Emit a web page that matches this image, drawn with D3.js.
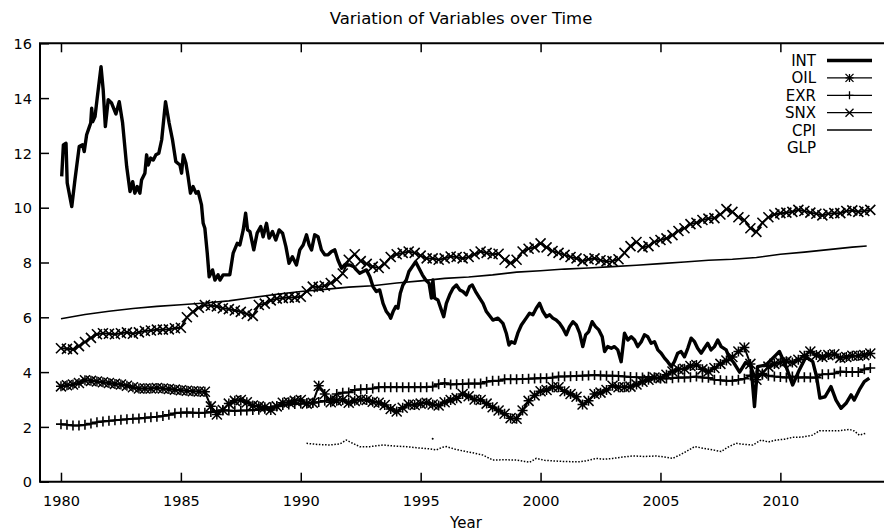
<!DOCTYPE html>
<html><head><meta charset="utf-8">
<script src="https://cdn.jsdelivr.net/npm/d3@7"></script>
<style>
body{margin:0;background:#fff;}
svg text{font-family:"DejaVu Sans",Verdana,sans-serif;fill:#000;}
</style>
</head><body>
<svg id="chart" width="884" height="532"></svg>
<script>
// ---------------- DATA ----------------
const titleText = "Variation of Variables over Time";
const xLabelText = "Year";
const xTickValues = [1980, 1985, 1990, 1995, 2000, 2005, 2010];
const yTickValues = [0, 2, 4, 6, 8, 10, 12, 14, 16];
const legendNames = ["INT", "OIL", "EXR", "SNX", "CPI", "GLP"];

// quarterly time points for OIL, EXR, SNX (1980 Q1 ... 2013 Q4)
const quarterYears = d3.range(136).map(i => 1980 + i / 4);

const oilValues = [
3.48,3.52,3.55,3.60, 3.70,3.68,3.66,3.63, 3.60,3.57,3.55,3.50, 3.45,3.40,3.40,3.40,
3.42,3.40,3.38,3.36, 3.34,3.32,3.30,3.29, 3.28,2.75,2.45,2.62, 2.85,2.95,2.98,2.90,
2.78,2.75,2.72,2.62, 2.75,2.88,2.90,2.95, 2.98,2.85,2.88,3.50, 3.20,2.90,2.95,2.98,
2.88,2.95,3.00,2.98, 2.92,2.88,2.80,2.65, 2.56,2.70,2.82,2.80, 2.85,2.88,2.82,2.78,
2.90,2.98,3.05,3.20, 3.12,3.00,2.98,2.85, 2.72,2.60,2.48,2.32, 2.30,2.60,2.95,3.15,
3.30,3.35,3.45,3.45, 3.30,3.20,3.10,2.82, 2.95,3.20,3.25,3.35, 3.50,3.45,3.45,3.47,
3.55,3.65,3.72,3.80, 3.78,3.90,4.02,4.10, 4.12,4.22,4.26,4.10, 4.02,4.15,4.30,4.42,
4.55,4.75,4.90,4.30, 3.72,3.95,4.20,4.30, 4.35,4.40,4.35,4.45, 4.60,4.75,4.62,4.55,
4.62,4.65,4.52,4.55, 4.60,4.60,4.62,4.68];

const exrValues = [
2.10,2.08,2.05,2.05, 2.08,2.12,2.17,2.20, 2.22,2.24,2.26,2.28, 2.30,2.31,2.33,2.35,
2.37,2.40,2.44,2.50, 2.52,2.53,2.52,2.51, 2.52,2.54,2.57,2.60, 2.60,2.58,2.60,2.60,
2.62,2.63,2.66,2.72, 2.75,2.80,2.82,2.84, 2.85,2.86,2.88,2.91, 2.95,3.00,3.20,3.25,
3.26,3.35,3.37,3.38, 3.40,3.45,3.45,3.45, 3.45,3.45,3.45,3.45, 3.45,3.45,3.47,3.56,
3.60,3.55,3.56,3.57, 3.58,3.58,3.58,3.65, 3.68,3.68,3.74,3.74, 3.74,3.75,3.76,3.77,
3.78,3.78,3.80,3.84, 3.84,3.85,3.86,3.87, 3.88,3.89,3.88,3.87, 3.87,3.86,3.84,3.82,
3.81,3.80,3.83,3.80, 3.77,3.77,3.78,3.80, 3.80,3.81,3.84,3.80, 3.79,3.72,3.70,3.68,
3.68,3.72,3.76,3.88, 3.88,3.90,3.87,3.84, 3.82,3.80,3.84,3.80, 3.81,3.80,3.80,3.92,
3.92,3.95,4.02,4.00, 4.00,4.00,4.10,4.15];

const snxValues = [
4.87,4.85,4.83,4.95, 5.10,5.25,5.38,5.42, 5.40,5.38,5.42,5.45, 5.40,5.45,5.50,5.52,
5.55,5.55,5.56,5.60, 5.62,6.00,6.20,6.35, 6.45,6.42,6.40,6.33, 6.30,6.25,6.20,6.12,
6.05,6.45,6.50,6.62, 6.68,6.70,6.72,6.72, 6.75,6.95,7.12,7.10, 7.15,7.25,7.38,7.60,
8.10,8.30,8.05,7.95, 7.85,7.80,7.95,8.20, 8.30,8.35,8.40,8.35, 8.25,8.15,8.15,8.10,
8.15,8.22,8.20,8.15, 8.20,8.30,8.40,8.35, 8.30,8.32,8.10,7.98, 8.10,8.40,8.50,8.55,
8.70,8.55,8.42,8.35, 8.28,8.20,8.15,8.05, 8.12,8.15,8.08,8.04, 8.05,8.12,8.35,8.60,
8.75,8.55,8.60,8.75, 8.82,8.88,9.00,9.15, 9.25,9.40,9.45,9.55, 9.60,9.62,9.75,9.95,
9.85,9.65,9.55,9.25, 9.12,9.45,9.65,9.75, 9.80,9.82,9.85,9.92, 9.88,9.82,9.78,9.72,
9.78,9.80,9.80,9.88, 9.90,9.85,9.88,9.92];

const intYears = [
1980.03,1980.10,1980.21,1980.26,1980.45,1980.58,1980.76,1980.90,1980.97,1981.07,1981.18,1981.24,1981.28,1981.32,
1981.42,1981.51,1981.67,1981.76,1981.85,1981.97,1982.11,1982.29,1982.43,1982.57,1982.74,1982.88,1982.99,1983.08,
1983.18,1983.29,1983.36,1983.50,1983.57,1983.64,1983.74,1983.85,1983.96,1984.08,1984.20,1984.36,1984.51,1984.65,
1984.79,1984.96,1985.03,1985.10,1985.21,1985.30,1985.40,1985.51,1985.63,1985.72,1985.86,1985.93,1986.00,1986.10,
1986.18,1986.32,1986.42,1986.55,1986.63,1986.76,1987.04,1987.18,1987.35,1987.46,1987.60,1987.70,1987.78,1987.88,
1988.04,1988.18,1988.33,1988.43,1988.57,1988.68,1988.82,1988.96,1989.10,1989.24,1989.38,1989.51,1989.65,1989.82,
1989.96,1990.10,1990.24,1990.35,1990.45,1990.58,1990.72,1990.86,1991.00,1991.14,1991.28,1991.42,1991.55,1991.70,
1991.83,1992.04,1992.21,1992.32,1992.46,1992.60,1992.74,1992.88,1993.01,1993.15,1993.29,1993.43,1993.57,1993.68,
1993.75,1993.85,1993.96,1994.05,1994.15,1994.26,1994.40,1994.51,1994.65,1994.79,1994.93,1995.07,1995.21,1995.35,
1995.45,1995.51,1995.58,1995.72,1995.86,1995.96,1996.07,1996.21,1996.35,1996.49,1996.63,1996.76,1996.90,1997.04,
1997.15,1997.29,1997.46,1997.60,1997.74,1998.01,1998.22,1998.43,1998.57,1998.68,1998.78,1998.92,1999.05,1999.20,
1999.40,1999.54,1999.68,1999.82,1999.96,2000.10,2000.24,2000.38,2000.51,2000.65,2000.79,2000.93,2001.07,2001.21,
2001.35,2001.49,2001.63,2001.76,2001.88,2002.01,2002.15,2002.29,2002.43,2002.57,2002.67,2002.80,2002.95,2003.08,
2003.22,2003.36,2003.50,2003.64,2003.78,2003.92,2004.05,2004.20,2004.33,2004.47,2004.61,2004.75,2004.89,2005.03,
2005.17,2005.30,2005.45,2005.58,2005.72,2005.86,2006.00,2006.14,2006.28,2006.42,2006.55,2006.70,2006.83,2006.97,
2007.11,2007.25,2007.39,2007.53,2007.74,2007.85,2008.05,2008.30,2008.55,2008.78,2008.92,2009.05,2009.40,2009.82,
2009.96,2010.24,2010.51,2010.79,2011.07,2011.35,2011.51,2011.65,2011.86,2012.11,2012.32,2012.53,2012.74,2012.95,
2013.08,2013.29,2013.50,2013.71];
const intValues = [
11.14,12.29,12.35,10.90,10.04,11.00,12.23,12.30,12.05,12.66,12.94,13.09,13.63,13.14,
13.33,14.00,15.15,14.30,12.96,13.94,13.82,13.42,13.87,13.09,11.50,10.59,10.95,10.53,
10.77,10.53,11.01,11.26,11.93,11.56,11.81,11.74,11.93,11.99,12.48,13.87,13.09,12.48,
11.68,11.56,11.26,11.93,11.62,11.14,10.53,10.77,10.53,10.59,10.10,9.43,9.25,8.34,
7.48,7.73,7.36,7.55,7.36,7.55,7.55,8.34,8.70,8.64,9.19,9.80,9.19,9.13,
8.46,9.07,9.31,8.94,9.43,8.89,9.13,8.82,9.19,9.07,8.58,7.97,8.21,7.91,
8.46,8.64,9.01,8.64,8.46,9.01,8.94,8.46,8.28,8.28,8.40,8.46,8.09,7.79,
7.91,7.91,7.85,7.73,7.61,7.67,7.73,7.48,7.12,6.94,7.00,6.51,6.21,6.09,
5.97,6.21,6.39,6.33,6.88,7.18,7.36,7.67,7.85,8.03,7.79,7.55,7.36,7.24,
6.70,7.36,6.70,6.63,6.27,6.02,6.51,6.82,7.06,7.18,7.00,6.94,6.82,7.12,
7.18,6.94,6.70,6.51,6.21,5.90,5.97,5.78,5.42,4.99,5.11,5.05,5.42,5.72,
5.97,6.15,6.09,6.33,6.51,6.21,6.02,6.09,5.97,5.90,5.78,5.60,5.36,5.66,
5.84,5.72,5.42,4.93,5.36,5.48,5.84,5.66,5.54,5.29,4.75,4.93,4.87,4.93,
4.81,4.38,5.42,5.17,5.29,5.17,4.93,5.11,5.36,5.29,5.05,5.11,4.81,4.69,
4.51,4.38,4.20,4.38,4.69,4.75,4.56,4.87,5.24,5.11,4.87,4.69,4.87,5.05,
4.81,4.93,5.17,4.93,4.81,4.56,4.35,4.00,4.35,4.20,2.74,4.20,4.26,4.63,
4.75,4.20,3.53,4.08,4.56,4.38,3.83,3.05,3.10,3.47,2.98,2.68,2.86,3.17,
2.98,3.35,3.65,3.78];

const cpiYears = [1980,1981,1982,1983,1984,1985,1986,1987,1988,1989,1990,1991,1992,1993,1994,1995,1996,
1997,1998,1999,2000,2001,2002,2003,2004,2005,2006,2007,2008,2009,2010,2011,2012,2013,2013.6];
const cpiValues = [5.95,6.10,6.22,6.32,6.40,6.46,6.52,6.60,6.72,6.84,6.94,7.02,7.10,7.15,7.25,7.33,7.42,
7.47,7.55,7.65,7.70,7.76,7.80,7.85,7.90,7.96,8.02,8.08,8.12,8.18,8.30,8.38,8.47,8.56,8.60];

const glpYears = [1990.24,1990.71,1991.21,1991.63,1991.90,1992.17,1992.46,1992.88,1993.43,1993.92,1994.40,1994.82,
1995.10,1995.38,1995.65,1995.88,1996.07,1996.46,1996.90,1997.25,1997.60,1998.01,1998.50,1998.99,1999.33,1999.54,
1999.82,2000.17,2000.51,2000.92,2001.35,2001.63,2001.90,2002.32,2002.67,2003.01,2003.42,2003.85,2004.33,2004.82,
2005.17,2005.51,2005.79,2006.07,2006.42,2006.79,2007.18,2007.53,2007.79,2008.15,2008.50,2008.85,2009.20,2009.50,
2009.82,2010.17,2010.51,2010.92,2011.35,2011.63,2012.04,2012.45,2012.88,2013.08,2013.29,2013.57];
const glpValues = [1.40,1.36,1.34,1.38,1.52,1.40,1.28,1.28,1.34,1.30,1.28,1.24,
1.22,1.20,1.16,1.25,1.28,1.18,1.10,1.04,0.97,0.79,0.80,0.79,0.74,0.71,
0.85,0.78,0.76,0.74,0.73,0.73,0.76,0.85,0.82,0.85,0.90,0.94,0.92,0.94,
0.90,0.85,0.97,1.10,1.28,1.22,1.16,1.10,1.25,1.40,1.36,1.34,1.52,1.45,
1.52,1.55,1.62,1.63,1.70,1.86,1.86,1.86,1.91,1.85,1.70,1.77];
const glpIsolatedYears = [1995.5];
const glpIsolatedValues = [1.57];

// ---------------- DRAWING ----------------
const svg = d3.select("#chart");
const pLeft = 40, pRight = 886, pTop = 43.3, pBottom = 481.7;

const x = d3.scaleLinear().domain([1979.125, 2014.405]).range([pLeft, pRight]);
const y = d3.scaleLinear().domain([0, 16]).range([pBottom, pTop]);

svg.append("defs").append("clipPath").attr("id", "clip")
  .append("rect").attr("x", pLeft).attr("y", pTop).attr("width", pRight - pLeft).attr("height", pBottom - pTop);

// Title
svg.append("text").attr("x", 461).attr("y", 24).attr("text-anchor", "middle")
  .style("font-size", "16.5px").text(titleText);
// X label
svg.append("text").attr("x", 466).attr("y", 528).attr("text-anchor", "middle")
  .style("font-size", "15px").text(xLabelText);

// Axes (ticks inward)
const gx = svg.append("g").attr("transform", `translate(0,${pBottom})`)
  .call(d3.axisBottom(x).tickValues(xTickValues).tickFormat(d3.format("d")).tickSize(-9).tickPadding(0));
gx.select(".domain").remove();
gx.selectAll(".tick line").attr("stroke", "#000").attr("stroke-width", 1.5);
gx.selectAll(".tick text").attr("y", 24.5).attr("dy", null).style("font-size", "14.5px");

const gxt = svg.append("g").attr("transform", `translate(0,${pTop})`)
  .call(d3.axisTop(x).tickValues(xTickValues).tickFormat("").tickSize(-9));
gxt.select(".domain").remove();
gxt.selectAll(".tick line").attr("stroke", "#000").attr("stroke-width", 1.5);

const gy = svg.append("g").attr("transform", `translate(${pLeft},0)`)
  .call(d3.axisLeft(y).tickValues(yTickValues).tickSize(-9).tickPadding(0));
gy.select(".domain").remove();
gy.selectAll(".tick line").attr("stroke", "#000").attr("stroke-width", 1.5);
gy.selectAll(".tick text").attr("x", -8).attr("dy", "0.36em").style("font-size", "14.5px");

// Frame
svg.append("path").attr("fill", "none").attr("stroke", "#000").attr("stroke-width", 2)
  .attr("d", `M${pRight},${pTop}H${pLeft}V${pBottom}H${pRight}`);

const plot = svg.append("g").attr("clip-path", "url(#clip)");

const line = d3.line().x(d => x(d[0])).y(d => y(d[1]));
const zip = (a, b) => a.map((v, i) => [v, b[i]]);

// marker paths
function markerPath(type, s) {
  const p = d3.path();
  if (type === "plus" || type === "star") { p.moveTo(-s, 0); p.lineTo(s, 0); p.moveTo(0, -s); p.lineTo(0, s); }
  if (type === "cross" || type === "star") { p.moveTo(-s, -s); p.lineTo(s, s); p.moveTo(-s, s); p.lineTo(s, -s); }
  return p.toString();
}

function markerSeries(vals, type, s, sw) {
  const pts = zip(quarterYears, vals);
  plot.append("path").attr("d", line(pts)).attr("fill", "none").attr("stroke", "#000").attr("stroke-width", 2);
  plot.append("g").selectAll("path").data(pts).join("path")
    .attr("transform", d => `translate(${x(d[0])},${y(d[1])})`)
    .attr("d", markerPath(type, s)).attr("fill", "none").attr("stroke", "#000").attr("stroke-width", sw);
}

// GLP dotted
plot.append("path").attr("d", line(zip(glpYears, glpValues))).attr("fill", "none")
  .attr("stroke", "#000").attr("stroke-width", 1.5).attr("stroke-dasharray", "1.5,1.6");
plot.selectAll("circle.glp").data(zip(glpIsolatedYears, glpIsolatedValues)).join("circle")
  .attr("cx", d => x(d[0])).attr("cy", d => y(d[1])).attr("r", 1).attr("fill", "#000");

// CPI
plot.append("path").attr("d", line(zip(cpiYears, cpiValues))).attr("fill", "none")
  .attr("stroke", "#000").attr("stroke-width", 1.6);

markerSeries(exrValues, "plus", 5, 1.6);
markerSeries(oilValues, "star", 5, 1.5);
markerSeries(snxValues, "cross", 5, 1.6);

// INT
plot.append("path").attr("d", line(zip(intYears, intValues))).attr("fill", "none")
  .attr("stroke", "#000").attr("stroke-width", 3.4).attr("stroke-linejoin", "round");

// Legend
const legendStyles = [
  {w: 3.5, m: null}, {w: 1.3, m: "star"}, {w: 1.3, m: "plus"},
  {w: 1.3, m: "cross"}, {w: 1.5, m: null}, {w: 0, m: null}
];
const lg = svg.append("g");
legendNames.forEach((name, i) => {
  const cy = 60.5 + i * 17.4;
  lg.append("text").attr("x", 816).attr("y", cy).attr("dy", "0.36em").attr("text-anchor", "end")
    .style("font-size", "15px").text(name);
  const st = legendStyles[i];
  if (st.w > 0) {
    lg.append("line").attr("x1", 827).attr("x2", 872).attr("y1", cy).attr("y2", cy)
      .attr("stroke", "#000").attr("stroke-width", st.w);
  }
  if (st.m) {
    lg.append("path").attr("transform", `translate(849.5,${cy})`).attr("d", markerPath(st.m, 4))
      .attr("fill", "none").attr("stroke", "#000").attr("stroke-width", 1.3);
  }
});
</script>
</body></html>
